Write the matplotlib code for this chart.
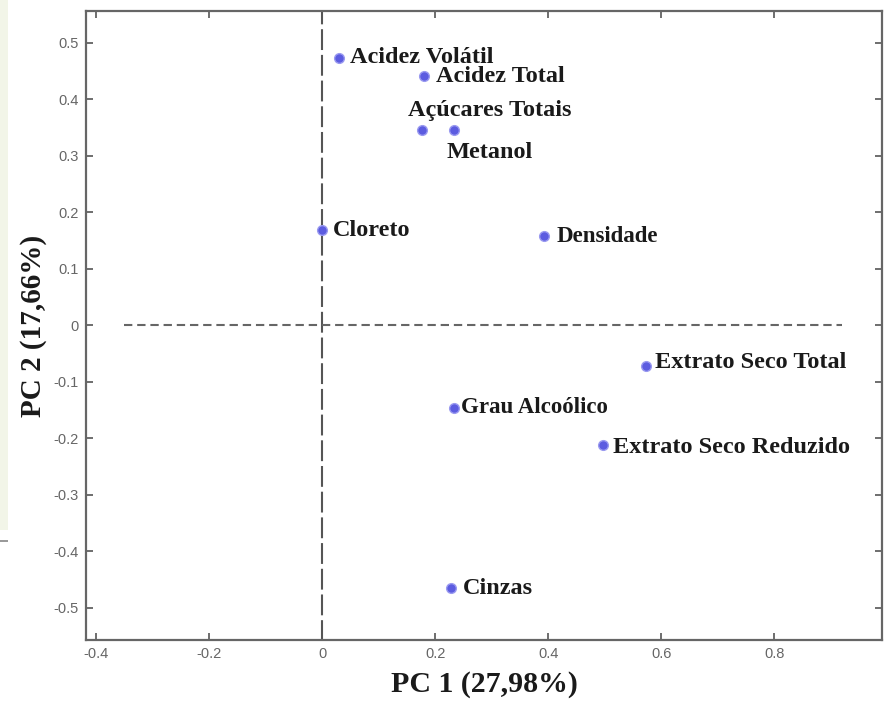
import matplotlib
matplotlib.use("Agg")
import matplotlib.pyplot as plt
from matplotlib.patches import Rectangle

# loadings on the first two principal components
variaveis = ['Acidez Volátil', 'Acidez Total', 'Açúcares Totais', 'Metanol', 'Cloreto',
             'Densidade', 'Extrato Seco Total', 'Grau Alcoólico', 'Extrato Seco Reduzido', 'Cinzas']
pc1 = [0.030, 0.180, 0.176, 0.233, 0.000, 0.392, 0.574, 0.234, 0.497, 0.228]
pc2 = [0.473, 0.440, 0.345, 0.345, 0.168, 0.157, -0.072, -0.146, -0.213, -0.466]

xticks = [-0.4, -0.2, 0, 0.2, 0.4, 0.6, 0.8]
yticks = [-0.5, -0.4, -0.3, -0.2, -0.1, 0, 0.1, 0.2, 0.3, 0.4, 0.5]

# label placement (pixel offsets from each dot) and font size
offsets = [(11, 0), (12, 0), (-14, 20), (-7, -22), (11, 0),
           (13, 0), (9, 3), (7, 0), (10, -2), (12, 0)]
sizes = [17.5, 17.5, 17.5, 17.5, 17.5, 16.5, 17.5, 16.5, 17.5, 17.5]

plt.rcParams['lines.scale_dashes'] = False

fig = plt.figure(figsize=(8.84, 7.02), dpi=100)
ax = fig.add_axes([86 / 884, 62 / 702, 796 / 884, 629 / 702])

# page strip from the source document on the far left
fig.patches.append(Rectangle((0, 172 / 702), 8 / 884, 530 / 702, transform=fig.transFigure,
                             facecolor='#f2f5e8', edgecolor='none'))
fig.patches.append(Rectangle((0, 160 / 702), 8 / 884, 2 / 702, transform=fig.transFigure,
                             facecolor='#9a9a9a', edgecolor='none'))

ax.plot([0, 0], [-0.56, 0.56], color='#555555', lw=1.5, dashes=(15, 3.5))
ax.plot([-0.35, 0.92], [0, 0], color='#666666', lw=1.5, dashes=(6, 3.5))

ax.plot(pc1, pc2, 'o', ms=7, color='#5c5ce0', mec='#9a9af0', mew=1)

for nome, x, y, off, fs in zip(variaveis, pc1, pc2, offsets, sizes):
    ax.annotate(nome, (x, y), xytext=off, textcoords='offset pixels',
                ha='left', va='center', fontsize=fs, fontweight='bold',
                family='Liberation Serif', color='#1a1a1a')

ax.set_xlim(-0.418, 0.991)
ax.set_ylim(-0.5575, 0.5558)
ax.set_xticks(xticks)
ax.set_yticks(yticks)
ax.set_xticklabels(['-0.4', '-0.2', '0', '0.2', '0.4', '0.6', '0.8'])
ax.set_yticklabels(['-0.5', '-0.4', '-0.3', '-0.2', '-0.1', '0', '0.1', '0.2', '0.3', '0.4', '0.5'])
ax.tick_params(direction='in', top=True, right=True, length=5, width=1.2, color='#555555',
               labelsize=10.5, labelcolor='#666666', pad=5)
for lab in ax.get_xticklabels() + ax.get_yticklabels():
    lab.set_family('Liberation Sans')
for s in ax.spines.values():
    s.set_color('#666666')
    s.set_linewidth(1.6)

ax.set_xlabel('PC 1 (27,98%)', fontsize=21.5, fontweight='bold', family='Liberation Serif',
              color='#1a1a1a', labelpad=7)
ax.set_ylabel('PC 2 (17,66%)', fontsize=21, fontweight='bold', family='Liberation Serif',
              color='#1a1a1a', labelpad=5)

fig.savefig('out.png', dpi=100)
